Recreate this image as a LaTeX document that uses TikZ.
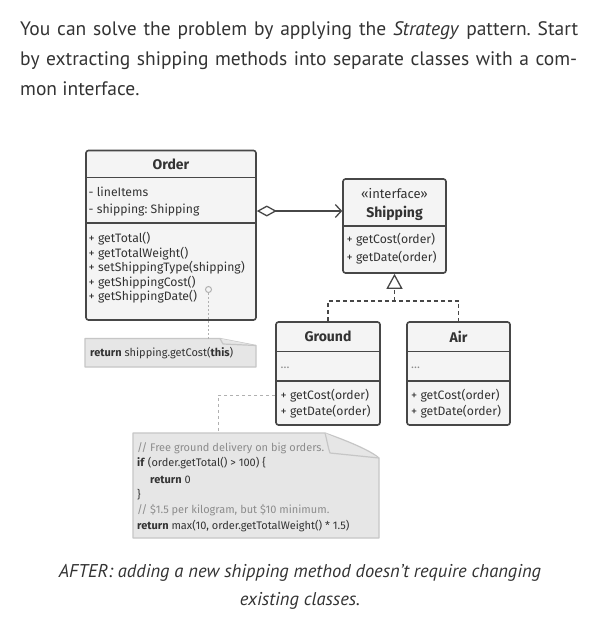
\documentclass[tikz,border=0pt]{standalone}
\usepackage{fontspec}
\setmainfont{PT Sans}
\newfontfamily\df{Fira Sans}
\usetikzlibrary{arrows.meta}
\frenchspacing
\definecolor{ink}{HTML}{333333}
\definecolor{boxfill}{HTML}{F4F4F4}
\definecolor{boxline}{HTML}{474747}
\definecolor{notefill}{HTML}{E6E6E6}
\definecolor{noteline}{HTML}{C6C6C6}
\definecolor{cmt}{HTML}{8C8C8C}
\definecolor{conn}{HTML}{B0B0B0}
\begin{document}
\begin{tikzpicture}[x=1pt,y=-1pt,
  cls/.style={draw=boxline, fill=boxfill, line width=1.6pt, rounded corners=2.5pt, inner sep=0pt},
  secline/.style={draw=boxline, line width=1.4pt},
  ttl/.style={font=\df\bfseries\fontsize{14}{16}\selectfont, text=ink, inner sep=0pt},
  mem/.style={font=\df\fontsize{12.2}{14}\selectfont, text=ink, anchor=west, inner sep=0pt},
  body/.style={font=\fontsize{19.5}{22}\selectfont, text=ink, anchor=base west, inner sep=0pt},
  captxt/.style={font=\itshape\fontsize{18.5}{22}\selectfont, text=ink, anchor=base, inner sep=0pt},
  code/.style={font=\df\fontsize{11}{13}\selectfont, text=ink, anchor=west, inner sep=0pt},
  notebox/.style={fill=notefill, draw=noteline, line width=1.2pt, line join=round},
  notelink/.style={draw=conn, line width=1pt, dash pattern=on 3pt off 3pt},
  realize/.style={draw=boxline, line width=1.3pt, dash pattern=on 4pt off 3pt}
]
\fill[white] (0,0) rectangle (601,635);
\useasboundingbox (0,0) rectangle (601,635);

% intro text
\node[body] (p1) at (20,35) {\makebox[558pt][s]{You can solve the problem by applying the \textit{Strategy} pattern. Start}};
\node[body] (p2) at (20,65) {\makebox[557pt][s]{by extracting shipping methods into separate classes with a com-}};
\node[body] (p3) at (20,95) {mon interface.};

% Order class
\node[cls, minimum width=170pt, minimum height=169.5pt] (order) at (171,235.25) {};
\draw[secline] (order.west |- 0,177.5) -- (order.east |- 0,177.5);
\draw[secline] (order.west |- 0,223) -- (order.east |- 0,223);
\node[ttl] (orderT) at (171,164.5) {Order};
\node[mem] (o1) at (88.5,192) {- lineItems};
\node[mem] (o2) at (88.5,210) {- shipping: Shipping};
\node[mem] (o3) at (88.5,239) {+ getTotal()};
\node[mem] (o4) at (88.5,253.5) {+ getTotalWeight()};
\node[mem] (o5) at (88.5,268) {+ setShippingType(shipping)};
\node[mem] (o6) at (88.5,282.5) {+ getShippingCost()};
\node[mem] (o7) at (88.5,297) {+ getShippingDate()};

% Shipping interface
\node[cls, minimum width=103pt, minimum height=94pt] (ship) at (394.5,226) {};
\draw[secline] (ship.west |- 0,226) -- (ship.east |- 0,226);
\node[font=\df\fontsize{13}{15}\selectfont, text=ink, inner sep=0pt] (shipS) at (394.5,194) {«interface»};
\node[ttl] (shipT) at (394.5,213.5) {Shipping};
\node[mem] (s1) at (346.5,240) {+ getCost(order)};
\node[mem] (s2) at (346.5,258) {+ getDate(order)};

% Ground
\node[cls, minimum width=104pt, minimum height=103pt] (ground) at (328,373.5) {};
\draw[secline] (ground.west |- 0,351.5) -- (ground.east |- 0,351.5);
\draw[secline] (ground.west |- 0,381) -- (ground.east |- 0,381);
\node[ttl] (groundT) at (328,336.5) {Ground};
\node[mem, text=cmt] (g0) at (280.5,368) {...};
\node[mem] (g1) at (280.5,396) {+ getCost(order)};
\node[mem] (g2) at (280.5,412) {+ getDate(order)};

% Air
\node[cls, minimum width=103pt, minimum height=103pt] (air) at (458.5,373.5) {};
\draw[secline] (air.west |- 0,351.5) -- (air.east |- 0,351.5);
\draw[secline] (air.west |- 0,381) -- (air.east |- 0,381);
\node[ttl] (airT) at (458.5,336.5) {Air};
\node[mem, text=cmt] (a0) at (411,368) {...};
\node[mem] (a1) at (411,396) {+ getCost(order)};
\node[mem] (a2) at (411,412) {+ getDate(order)};

% aggregation
\draw[boxline, line width=1.3pt, {Diamond[open, length=20pt, width=11pt, line width=1.3pt]}-{Straight Barb[length=6pt, width=13pt, line width=1.3pt]}]
  (order.east |- 0,211) -- (ship.west |- 0,211);

% realization
\coordinate (jn) at (394.5,301);
\draw[realize] (ground.north) -- (ground.north |- jn) -- (air.north |- jn) -- (air.north);
\draw[realize, -{Triangle[open, length=15pt, width=16pt, line width=1.3pt]}] (jn) -- (ship.south);

% small note
\draw[notebox] (85,338.5) -- (220,338.5) -- (256,345.5) -- (256,367) -- (85,367) -- cycle;
\draw[notebox] (220,338.5) -- (223,344) -- (256,345.5);
\node[font=\df\fontsize{11}{13}\selectfont, text=ink, anchor=west, inner sep=0pt] (n1) at (90,353) {\textbf{return} shipping.getCost(\textbf{this})};
\node[draw=conn, line width=1pt, circle, inner sep=0pt, minimum size=6pt] (dot) at (208.5,289.5) {};
\coordinate (n1top) at (208.5,338.5);
\draw[notelink, dash pattern=on 2pt off 2pt] (dot) -- (n1top);

% big note
\draw[notebox] (133,433) -- (325,433) .. controls (345,440) and (370,450) .. (379,458) -- (379,538) -- (133,538) -- cycle;
\draw[notebox] (325,433) .. controls (327,440) and (328,448) .. (330,453) -- (379,458);
\node[code, text=cmt] (c1) at (137,448) {// Free ground delivery on big orders.};
\node[code] (c2) at (137,463.5) {\textbf{if} (order.getTotal() > 100) \{};
\node[code] (c3) at (150,479.5) {\textbf{return} 0};
\node[code] (c4) at (137,495) {\}};
\node[code, text=cmt] (c5) at (137,510.5) {// \$1.5 per kilogram, but \$10 minimum.};
\node[code] (c6) at (137,526) {\textbf{return} max(10, order.getTotalWeight() * 1.5)};
\coordinate (bend) at (218,395);
\coordinate (c1top) at (218,433);
\draw[notelink] (ground.west |- bend) -- (bend) -- (c1top);

% caption
\node[captxt] (cap1) at (300,577) {AFTER: adding a new shipping method doesn’t require changing};
\node[captxt] (cap2) at (300,605) {existing classes.};
\end{tikzpicture}
\end{document}
